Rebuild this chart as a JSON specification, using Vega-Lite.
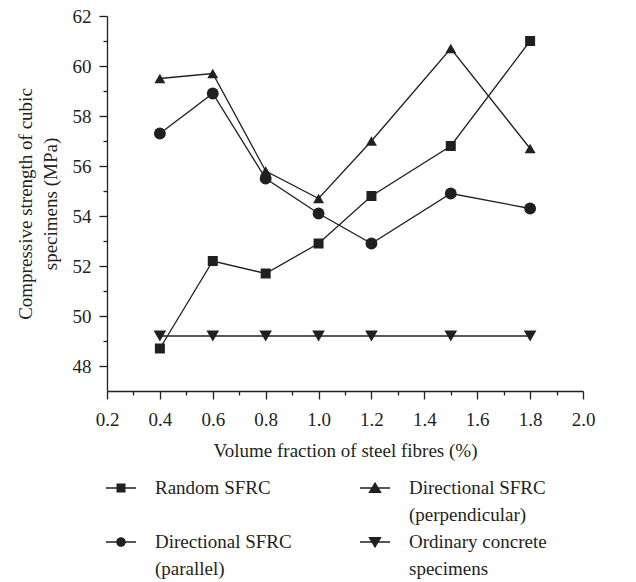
{
  "$schema": "https://vega.github.io/schema/vega-lite/v6.json",
  "width": 476,
  "height": 375,
  "autosize": "none",
  "padding": {"left": 107, "top": 16, "right": 53, "bottom": 191},
  "background": "white",
  "config": {
    "view": {"stroke": null},
    "font": "Liberation Serif",
    "style": {"guide-label": {"lineHeight": 27, "font": "Liberation Serif"}},
    "axis": {"domainColor": "#231f20", "tickColor": "#231f20", "labelColor": "#231f20", "titleColor": "#231f20", "labelFont": "Liberation Serif", "titleFont": "Liberation Serif", "labelFontSize": 19, "titleFontSize": 19, "titleFontWeight": "normal", "grid": false, "domainWidth": 1.3, "tickWidth": 1.3},
    "legend": {
      "title": null, "orient": "none", "legendX": -2, "legendY": 456, "columns": 2, "direction": "horizontal",
      "padding": 0, "symbolSize": 900, "symbolOpacity": 1, "labelOffset": 18, "columnPadding": 65, "rowPadding": 1,
      "labelFont": "Liberation Serif", "labelFontSize": 19, "labelColor": "#231f20", "labelLimit": 400
    }
  },
  "data": {"values": [
    {"x": 0.4, "v": 48.7, "s": "Random SFRC"},
    {"x": 0.6, "v": 52.2, "s": "Random SFRC"},
    {"x": 0.8, "v": 51.7, "s": "Random SFRC"},
    {"x": 1.0, "v": 52.9, "s": "Random SFRC"},
    {"x": 1.2, "v": 54.8, "s": "Random SFRC"},
    {"x": 1.5, "v": 56.8, "s": "Random SFRC"},
    {"x": 1.8, "v": 61.0, "s": "Random SFRC"},
    {"x": 0.4, "v": 59.5, "s": "Directional SFRC (perpendicular)"},
    {"x": 0.6, "v": 59.7, "s": "Directional SFRC (perpendicular)"},
    {"x": 0.8, "v": 55.8, "s": "Directional SFRC (perpendicular)"},
    {"x": 1.0, "v": 54.7, "s": "Directional SFRC (perpendicular)"},
    {"x": 1.2, "v": 57.0, "s": "Directional SFRC (perpendicular)"},
    {"x": 1.5, "v": 60.7, "s": "Directional SFRC (perpendicular)"},
    {"x": 1.8, "v": 56.7, "s": "Directional SFRC (perpendicular)"},
    {"x": 0.4, "v": 57.3, "s": "Directional SFRC (parallel)"},
    {"x": 0.6, "v": 58.9, "s": "Directional SFRC (parallel)"},
    {"x": 0.8, "v": 55.5, "s": "Directional SFRC (parallel)"},
    {"x": 1.0, "v": 54.1, "s": "Directional SFRC (parallel)"},
    {"x": 1.2, "v": 52.9, "s": "Directional SFRC (parallel)"},
    {"x": 1.5, "v": 54.9, "s": "Directional SFRC (parallel)"},
    {"x": 1.8, "v": 54.3, "s": "Directional SFRC (parallel)"},
    {"x": 0.4, "v": 49.2, "s": "Ordinary concrete specimens"},
    {"x": 0.6, "v": 49.2, "s": "Ordinary concrete specimens"},
    {"x": 0.8, "v": 49.2, "s": "Ordinary concrete specimens"},
    {"x": 1.0, "v": 49.2, "s": "Ordinary concrete specimens"},
    {"x": 1.2, "v": 49.2, "s": "Ordinary concrete specimens"},
    {"x": 1.5, "v": 49.2, "s": "Ordinary concrete specimens"},
    {"x": 1.8, "v": 49.2, "s": "Ordinary concrete specimens"}
  ]},
  "layer": [
    {
      "mark": {"type": "line", "color": "#231f20", "strokeWidth": 1.3},
      "encoding": {
        "x": {"field": "x", "type": "quantitative", "scale": {"domain": [0.2, 2.0], "nice": false, "zero": false},
          "axis": {"orient": "bottom", "values": [0.2, 0.4, 0.6, 0.8, 1.0, 1.2, 1.4, 1.6, 1.8, 2.0], "format": ".1f", "tickSize": 8, "labelPadding": 11, "labelFlush": false, "labelOverlap": false, "title": "Volume fraction of steel fibres (%)", "titlePadding": 12}},
        "y": {"field": "v", "type": "quantitative", "scale": {"domain": [47, 62], "nice": false, "zero": false},
          "axis": {"orient": "left", "values": [48, 50, 52, 54, 56, 58, 60, 62], "tickSize": 8, "labelPadding": 8, "labelFlush": false, "labelOverlap": false, "title": ["Compressive strength of cubic", "specimens (MPa)"], "titleLineHeight": 25, "titlePadding": 12}},
        "detail": {"field": "s", "type": "nominal"}
      }
    },
    {
      "mark": {"type": "point", "filled": true, "opacity": 1, "color": "#231f20"},
      "encoding": {
        "x": {"field": "x", "type": "quantitative",
          "axis": {"orient": "bottom", "values": [0.3, 0.5, 0.7, 0.9, 1.1, 1.3, 1.5, 1.7, 1.9], "tickSize": 4, "labels": false, "domain": false, "title": null}},
        "y": {"field": "v", "type": "quantitative",
          "axis": {"orient": "left", "values": [49, 51, 53, 55, 57, 59, 61], "tickSize": 4, "labels": false, "domain": false, "title": null}},
        "shape": {"field": "s", "type": "nominal",
          "scale": {"domain": ["Random SFRC", "Directional SFRC (perpendicular)", "Directional SFRC (parallel)", "Ordinary concrete specimens"], "range": ["square", "triangle-up", "circle", "triangle-down"]},
          "legend": null},
        "size": {"field": "s", "type": "ordinal",
          "scale": {"domain": ["Random SFRC", "Directional SFRC (perpendicular)", "Directional SFRC (parallel)", "Ordinary concrete specimens"], "range": [100, 160, 80, 160]},
          "legend": null}
      }
    },
    {
      "mark": {"type": "point", "filled": true, "opacity": 0, "color": "#231f20"},
      "encoding": {
        "x": {"field": "x", "type": "quantitative", "axis": null},
        "y": {"field": "v", "type": "quantitative", "axis": null},
        "shape": {"field": "s", "type": "nominal",
          "scale": {"domain": ["Random SFRC", "Directional SFRC (perpendicular)", "Directional SFRC (parallel)", "Ordinary concrete specimens"],
            "range": [
              "M-1,-0.05H-0.3V0.05H-1Z M0.3,-0.05H1V0.05H0.3Z M-0.3,-0.3H0.3V0.3H-0.3Z",
              "M-1,-0.05H-0.2V0.05H-1Z M0.2,-0.05H1V0.05H0.2Z M0,-0.42L0.45,0.33L-0.45,0.33Z",
              "M-1,-0.05H-0.28V0.05H-1Z M0.28,-0.05H1V0.05H0.28Z M0.32,0A0.32,0.32,0,1,1,-0.32,0A0.32,0.32,0,1,1,0.32,0Z",
              "M-1,-0.05H-0.2V0.05H-1Z M0.2,-0.05H1V0.05H0.2Z M0,0.42L-0.45,-0.33L0.45,-0.33Z"
            ]},
          "legend": {
            "labelFont": "Liberation Serif",
            "labelExpr": "datum.label == 'Random SFRC' ? ['Random SFRC', ' '] : datum.label == 'Directional SFRC (perpendicular)' ? ['Directional SFRC', '(perpendicular)'] : datum.label == 'Directional SFRC (parallel)' ? ['Directional SFRC', '(parallel)'] : datum.label == 'Ordinary concrete specimens' ? ['Ordinary concrete', 'specimens'] : datum.label"
          }}
      }
    }
  ],
  "resolve": {"axis": {"x": "independent", "y": "independent"}, "scale": {"shape": "independent"}}
}
